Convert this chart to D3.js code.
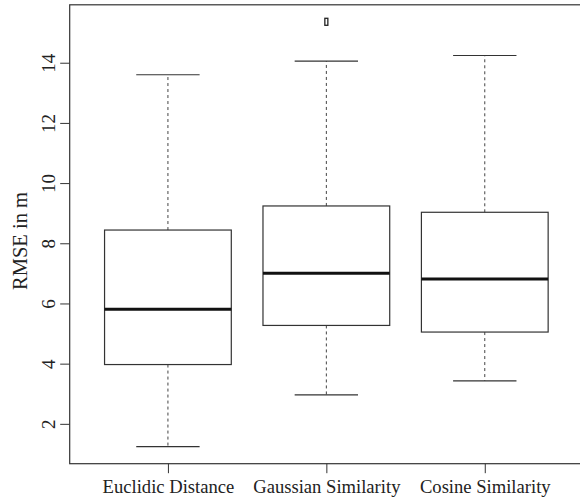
<!DOCTYPE html>
<html>
<head>
<meta charset="utf-8">
<script src="https://cdn.jsdelivr.net/npm/d3@7"></script>
<style>
  body { margin: 0; background: #fff; }
  svg { display: block; font-family: "Liberation Serif", "Times New Roman", serif; }
</style>
</head>
<body>
<div id="container"></div>
<script>
/* CONSTANTS AND GLOBALS */
const width = 580,
  height = 501,
  margin = { top: 4.8, bottom: 37.3, left: 69.7, right: -3 };

/* DATA */
const categories = ["Euclidic Distance", "Gaussian Similarity", "Cosine Similarity"];
const whiskerLow = [1.24, 2.96, 3.43];
const q1 = [3.97, 5.27, 5.05];
const medians = [5.81, 7.0, 6.81];
const q3 = [8.44, 9.24, 9.03];
const whiskerHigh = [13.6, 14.05, 14.24];
const outliers = [[], [15.36], []];
const yTicks = [2, 4, 6, 8, 10, 12, 14];

const boxes = categories.map((c, i) => ({
  idx: i + 1,
  name: c,
  lo: whiskerLow[i], q1: q1[i], med: medians[i], q3: q3[i], hi: whiskerHigh[i],
  out: outliers[i]
}));

// R style limits: extend 4%
const yMin = d3.min(boxes, d => d3.min([d.lo, ...d.out])),
  yMax = d3.max(boxes, d => d3.max([d.hi, ...d.out])),
  yPad = (yMax - yMin) * 0.04;

const xScale = d3.scaleLinear()
  .domain([0.5 - 0.12, 3.5 + 0.12])
  .range([margin.left, width - margin.right]);

const yScale = d3.scaleLinear()
  .domain([yMin - yPad, yMax + yPad])
  .range([height - margin.bottom, margin.top]);

const boxW = (xScale(2) - xScale(1)) * 0.8;
const capW = boxW * 0.5;

const svg = d3.select("#container")
  .append("svg")
  .attr("width", width)
  .attr("height", height);

// frame
svg.append("rect")
  .attr("x", margin.left)
  .attr("y", margin.top)
  .attr("width", width - margin.right - margin.left)
  .attr("height", height - margin.bottom - margin.top)
  .attr("fill", "none")
  .attr("stroke", "#333")
  .attr("stroke-width", 1.2);

const g = svg.selectAll("g.box")
  .data(boxes)
  .join("g")
  .attr("class", "box");

// whiskers (dashed)
g.append("line")
  .attr("x1", d => xScale(d.idx)).attr("x2", d => xScale(d.idx))
  .attr("y1", d => yScale(d.q3)).attr("y2", d => yScale(d.hi))
  .attr("stroke", "#444").attr("stroke-dasharray", "3,3");
g.append("line")
  .attr("x1", d => xScale(d.idx)).attr("x2", d => xScale(d.idx))
  .attr("y1", d => yScale(d.q1)).attr("y2", d => yScale(d.lo))
  .attr("stroke", "#444").attr("stroke-dasharray", "3,3");

// staples
g.append("line")
  .attr("x1", d => xScale(d.idx) - capW / 2).attr("x2", d => xScale(d.idx) + capW / 2)
  .attr("y1", d => yScale(d.hi)).attr("y2", d => yScale(d.hi))
  .attr("stroke", "#333").attr("stroke-width", 1.2);
g.append("line")
  .attr("x1", d => xScale(d.idx) - capW / 2).attr("x2", d => xScale(d.idx) + capW / 2)
  .attr("y1", d => yScale(d.lo)).attr("y2", d => yScale(d.lo))
  .attr("stroke", "#333").attr("stroke-width", 1.2);

// boxes
g.append("rect")
  .attr("x", d => xScale(d.idx) - boxW / 2)
  .attr("width", boxW)
  .attr("y", d => yScale(d.q3))
  .attr("height", d => yScale(d.q1) - yScale(d.q3))
  .attr("fill", "#fff")
  .attr("stroke", "#333")
  .attr("stroke-width", 1.2);

// medians
g.append("line")
  .attr("x1", d => xScale(d.idx) - boxW / 2).attr("x2", d => xScale(d.idx) + boxW / 2)
  .attr("y1", d => yScale(d.med)).attr("y2", d => yScale(d.med))
  .attr("stroke", "#111").attr("stroke-width", 3);

// outliers
g.selectAll("rect.out")
  .data(d => d.out.map(v => ({ idx: d.idx, v })))
  .join("rect")
  .attr("class", "out")
  .attr("x", d => xScale(d.idx) - 1.5)
  .attr("y", d => yScale(d.v) - 3.5)
  .attr("width", 3)
  .attr("height", 7)
  .attr("fill", "#fff")
  .attr("stroke", "#222")
  .attr("stroke-width", 1.3);

// y axis
const yAxis = svg.append("g")
  .attr("transform", `translate(${margin.left},0)`)
  .call(d3.axisLeft(yScale).tickValues(yTicks).tickSize(9.5).tickFormat(d3.format("d")));
yAxis.select(".domain").remove();
yAxis.selectAll(".tick line").attr("stroke", "#333");
yAxis.selectAll(".tick text")
  .attr("x", null).attr("dy", null)
  .attr("text-anchor", "middle")
  .attr("transform", "translate(-14.2,0) rotate(-90)")
  .attr("font-family", "Liberation Serif")
  .attr("font-size", 19)
  .attr("fill", "#222");

// x axis
const xAxis = svg.append("g")
  .attr("transform", `translate(0,${height - margin.bottom})`)
  .call(d3.axisBottom(xScale).tickValues([1, 2, 3]).tickSize(9.5).tickFormat(d => categories[d - 1]));
xAxis.select(".domain").remove();
xAxis.selectAll(".tick line").attr("stroke", "#333");
xAxis.selectAll(".tick text")
  .attr("y", 29.3).attr("dy", null)
  .attr("font-family", "Liberation Serif")
  .attr("font-size", 18.6)
  .attr("fill", "#222");

// y label
svg.append("text")
  .attr("transform", `translate(26.7,241) rotate(-90)`)
  .attr("text-anchor", "middle")
  .attr("font-size", 20.5)
  .attr("fill", "#222")
  .text("RMSE in m");
</script>
</body>
</html>
